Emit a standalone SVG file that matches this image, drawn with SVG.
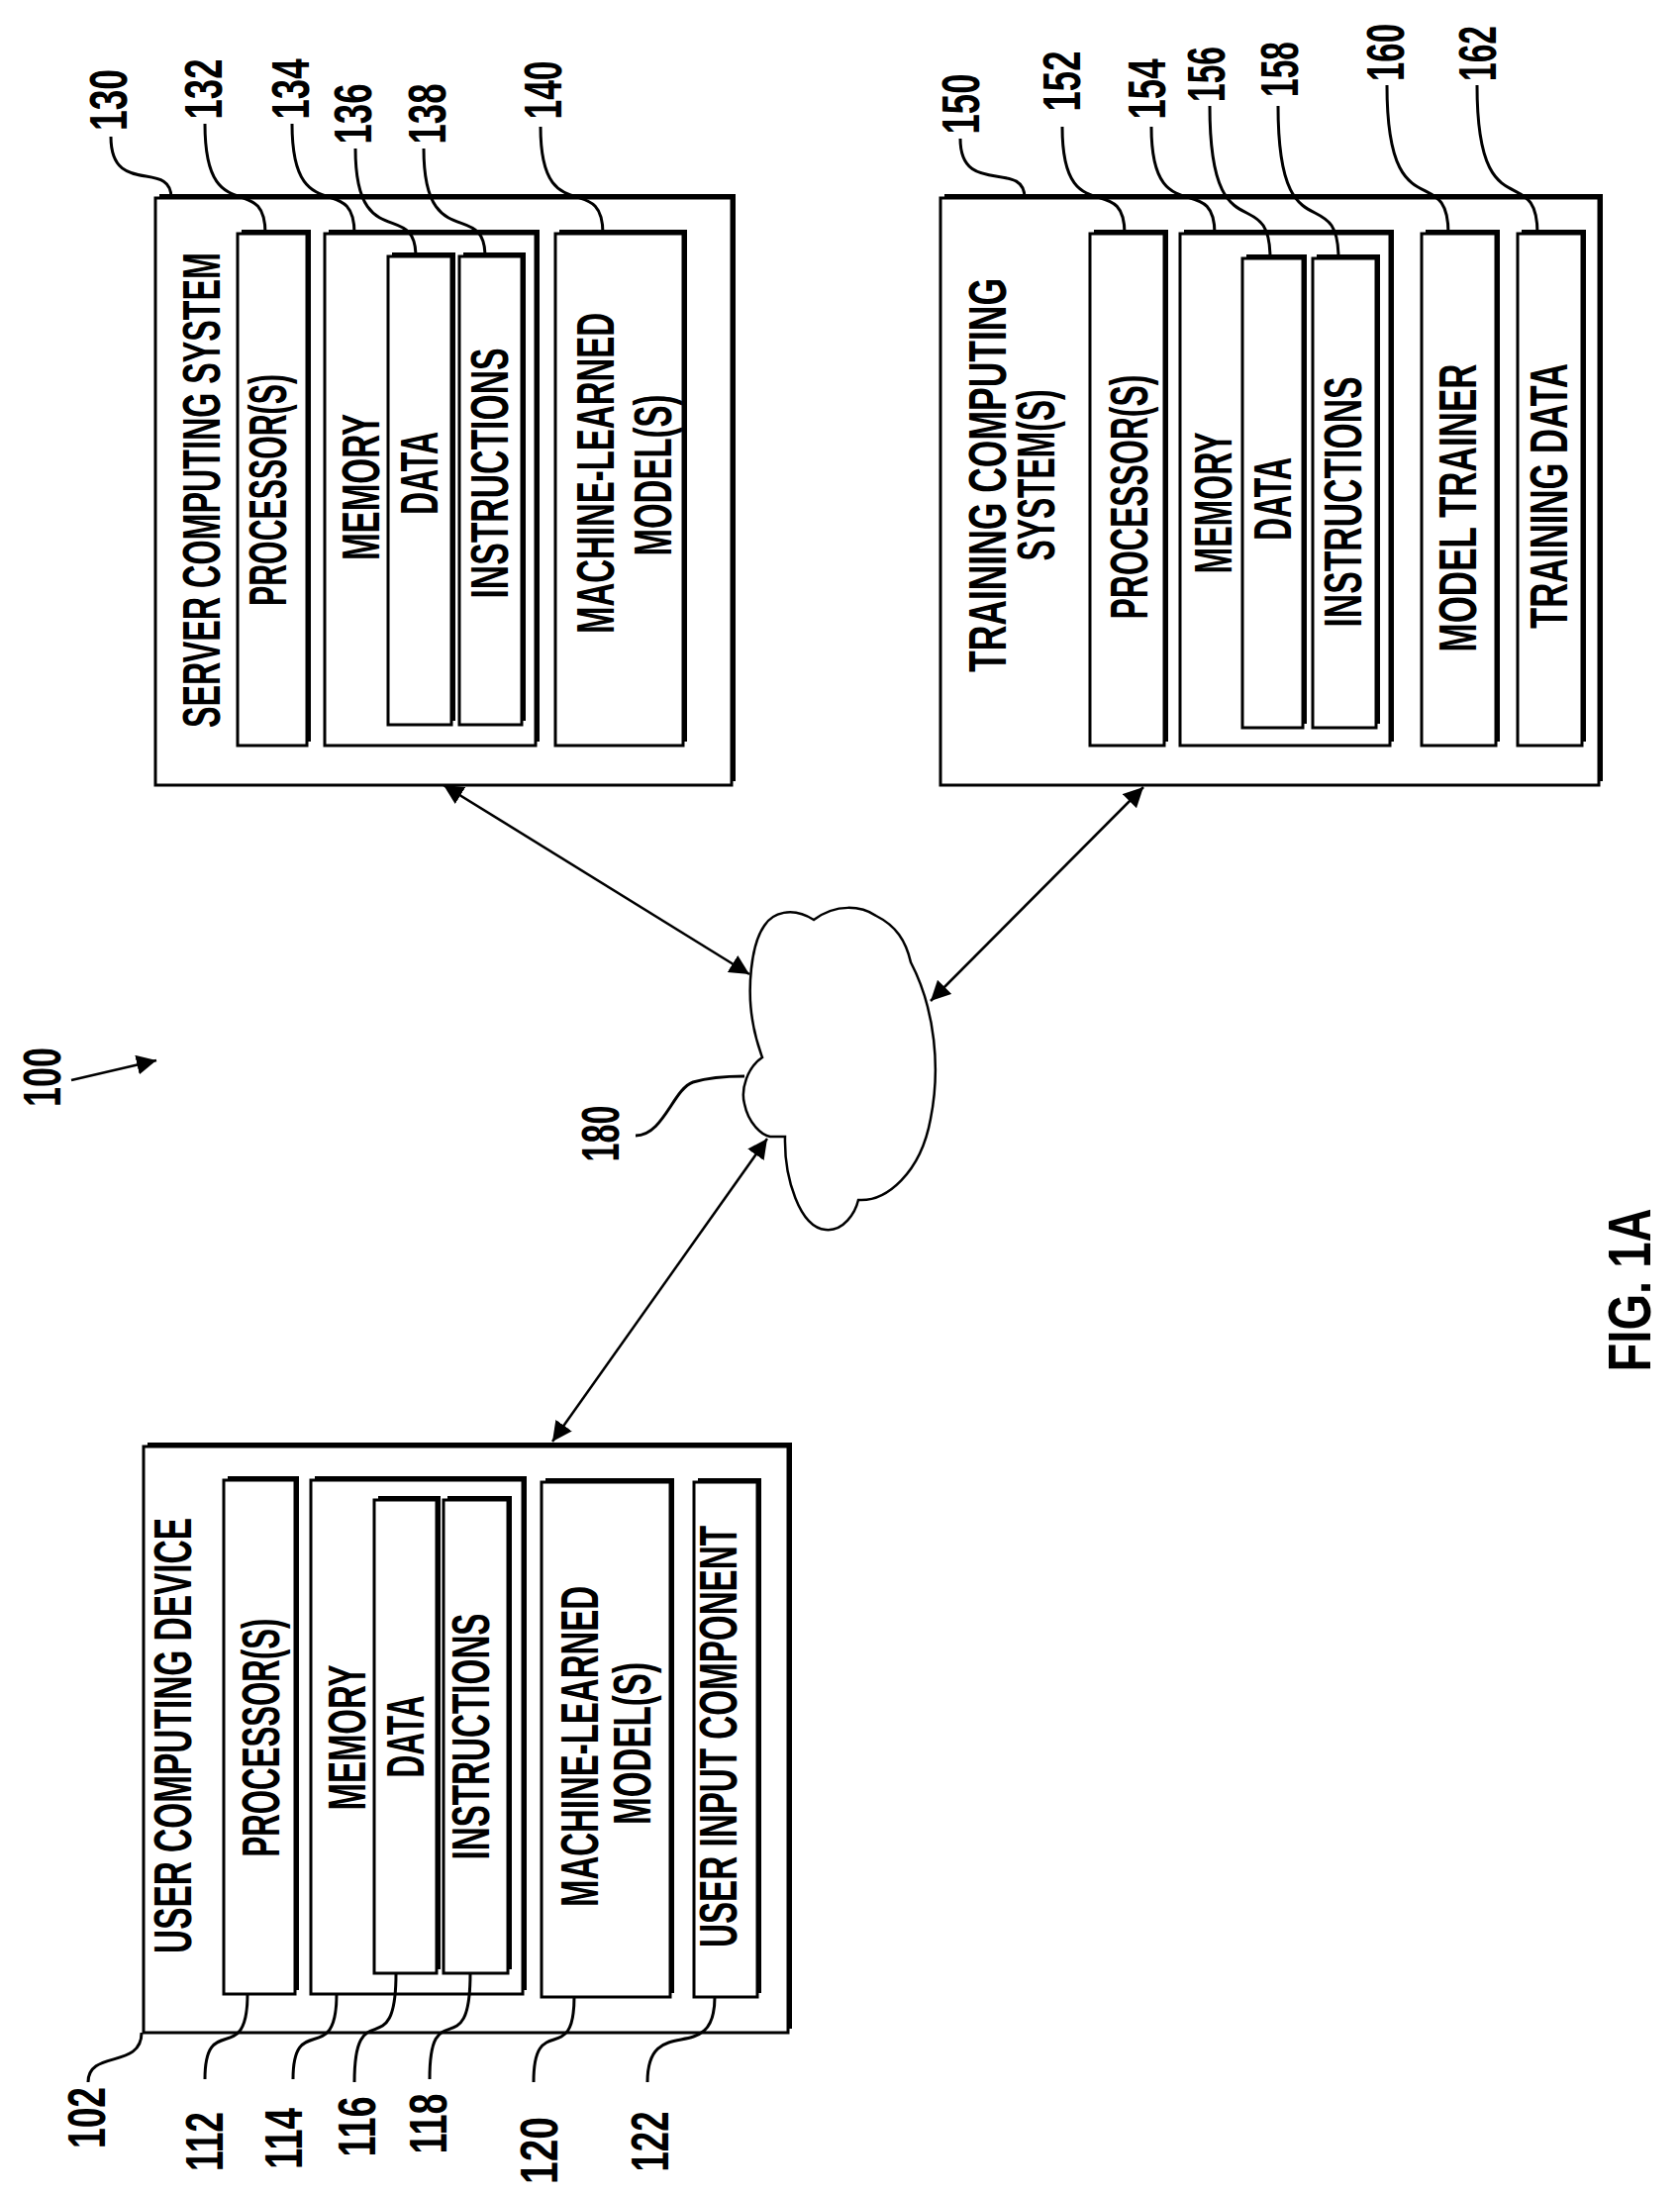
<svg xmlns="http://www.w3.org/2000/svg" width="1697" height="2218" viewBox="0 0 1697 2218">
<style>
text{font-family:"Liberation Sans","DejaVu Sans",sans-serif;font-size:54px;font-weight:bold;fill:#000;text-anchor:middle;dominant-baseline:central}
.box{fill:#fff;stroke:#000;stroke-width:3}
.sh{fill:#000}
.ld{fill:none;stroke:#000;stroke-width:3}
.ar{fill:none;stroke:#000;stroke-width:2.5}
</style>
<defs>
<marker id="ah" viewBox="0 0 10 10" refX="10" refY="5" markerWidth="8" markerHeight="8" orient="auto-start-reverse" markerUnits="strokeWidth">
<path d="M0,0 L10,5 L0,10 Z" fill="#000"/>
</marker>
</defs>
<rect width="1697" height="2218" fill="#fff"/>

<g id="n100">
<text transform="translate(42,1088) rotate(-90)" textLength="60" lengthAdjust="spacingAndGlyphs">100</text>
</g>

<g id="server130">
<rect class="sh" x="161" y="196" width="582" height="593"/>
<rect class="box" x="157" y="200" width="582" height="593"/>
<text transform="translate(203,495) rotate(-90)" textLength="480" lengthAdjust="spacingAndGlyphs">SERVER COMPUTING SYSTEM</text>
<rect class="sh" x="244" y="232" width="70" height="517"/>
<rect class="box" x="240" y="236" width="70" height="517"/>
<text transform="translate(270,495) rotate(-90)" textLength="234" lengthAdjust="spacingAndGlyphs">PROCESSOR(S)</text>
<rect class="sh" x="332" y="232" width="213" height="517"/>
<rect class="box" x="328" y="236" width="213" height="517"/>
<text transform="translate(364,492) rotate(-90)" textLength="148" lengthAdjust="spacingAndGlyphs">MEMORY</text>
<rect class="sh" x="396" y="255" width="64" height="473"/>
<rect class="box" x="392" y="259" width="64" height="473"/>
<text transform="translate(423,478) rotate(-90)" textLength="84" lengthAdjust="spacingAndGlyphs">DATA</text>
<rect class="sh" x="468" y="255" width="63" height="473"/>
<rect class="box" x="464" y="259" width="63" height="473"/>
<text transform="translate(494,478) rotate(-90)" textLength="253" lengthAdjust="spacingAndGlyphs">INSTRUCTIONS</text>
<rect class="sh" x="565" y="232" width="129" height="517"/>
<rect class="box" x="561" y="236" width="129" height="517"/>
<text transform="translate(601,478) rotate(-90)" textLength="324" lengthAdjust="spacingAndGlyphs">MACHINE-LEARNED</text>
<text transform="translate(659,480) rotate(-90)" textLength="163" lengthAdjust="spacingAndGlyphs">MODEL(S)</text>
</g>

<g id="training150">
<rect class="sh" x="954" y="196" width="665" height="593"/>
<rect class="box" x="950" y="200" width="665" height="593"/>
<text transform="translate(997,480) rotate(-90)" textLength="398" lengthAdjust="spacingAndGlyphs">TRAINING COMPUTING</text>
<text transform="translate(1046,480) rotate(-90)" textLength="173" lengthAdjust="spacingAndGlyphs">SYSTEM(S)</text>
<rect class="sh" x="1105" y="232" width="75" height="517"/>
<rect class="box" x="1101" y="236" width="75" height="517"/>
<text transform="translate(1140,502) rotate(-90)" textLength="247" lengthAdjust="spacingAndGlyphs">PROCESSOR(S)</text>
<rect class="sh" x="1196" y="232" width="212" height="517"/>
<rect class="box" x="1192" y="236" width="212" height="517"/>
<text transform="translate(1225,508) rotate(-90)" textLength="143" lengthAdjust="spacingAndGlyphs">MEMORY</text>
<rect class="sh" x="1259" y="257" width="61" height="474"/>
<rect class="box" x="1255" y="261" width="61" height="474"/>
<text transform="translate(1285,504) rotate(-90)" textLength="84" lengthAdjust="spacingAndGlyphs">DATA</text>
<rect class="sh" x="1330" y="257" width="64" height="474"/>
<rect class="box" x="1326" y="261" width="64" height="474"/>
<text transform="translate(1356,507) rotate(-90)" textLength="253" lengthAdjust="spacingAndGlyphs">INSTRUCTIONS</text>
<rect class="sh" x="1440" y="232" width="75" height="517"/>
<rect class="box" x="1436" y="236" width="75" height="517"/>
<text transform="translate(1472,513) rotate(-90)" textLength="291" lengthAdjust="spacingAndGlyphs">MODEL TRAINER</text>
<rect class="sh" x="1537" y="232" width="65" height="517"/>
<rect class="box" x="1533" y="236" width="65" height="517"/>
<text transform="translate(1564,501) rotate(-90)" textLength="268" lengthAdjust="spacingAndGlyphs">TRAINING DATA</text>
</g>

<g id="user102">
<rect class="sh" x="149" y="1457" width="651" height="592"/>
<rect class="box" x="145" y="1461" width="651" height="592"/>
<text transform="translate(174,1753) rotate(-90)" textLength="440" lengthAdjust="spacingAndGlyphs">USER COMPUTING DEVICE</text>
<rect class="sh" x="230" y="1491" width="72" height="519"/>
<rect class="box" x="226" y="1495" width="72" height="519"/>
<text transform="translate(263,1755) rotate(-90)" textLength="241" lengthAdjust="spacingAndGlyphs">PROCESSOR(S)</text>
<rect class="sh" x="318" y="1491" width="214" height="519"/>
<rect class="box" x="314" y="1495" width="214" height="519"/>
<text transform="translate(350,1755) rotate(-90)" textLength="147" lengthAdjust="spacingAndGlyphs">MEMORY</text>
<rect class="sh" x="382" y="1511" width="63" height="478"/>
<rect class="box" x="378" y="1515" width="63" height="478"/>
<text transform="translate(409,1754) rotate(-90)" textLength="83" lengthAdjust="spacingAndGlyphs">DATA</text>
<rect class="sh" x="452" y="1511" width="65" height="478"/>
<rect class="box" x="448" y="1515" width="65" height="478"/>
<text transform="translate(475,1754) rotate(-90)" textLength="249" lengthAdjust="spacingAndGlyphs">INSTRUCTIONS</text>
<rect class="sh" x="551" y="1493" width="130" height="520"/>
<rect class="box" x="547" y="1497" width="130" height="520"/>
<text transform="translate(585,1764) rotate(-90)" textLength="324" lengthAdjust="spacingAndGlyphs">MACHINE-LEARNED</text>
<text transform="translate(638,1761) rotate(-90)" textLength="164" lengthAdjust="spacingAndGlyphs">MODEL(S)</text>
<rect class="sh" x="705" y="1493" width="64" height="520"/>
<rect class="box" x="701" y="1497" width="64" height="520"/>
<text transform="translate(725,1754) rotate(-90)" textLength="426" lengthAdjust="spacingAndGlyphs">USER INPUT COMPONENT</text>
</g>

<g id="network180">
<path class="ar" d="M822,929 C800,915 780,922 772,935 C758,955 755,1000 760,1030 C763,1050 768,1062 770,1068 C755,1078 748,1100 752,1115 C756,1135 770,1147 778,1148 L793,1148 C792,1190 808,1240 834,1242 C852,1244 864,1225 867,1212 C895,1214 930,1185 940,1130 C950,1080 945,1020 920,972 C915,950 905,935 885,925 C870,915 845,912 822,929 Z"/>
<text transform="translate(606,1145) rotate(-90)" textLength="57" lengthAdjust="spacingAndGlyphs">180</text>
</g>

<g id="fig">
<text transform="translate(1645,1303) rotate(-90)" textLength="165" lengthAdjust="spacingAndGlyphs" style="font-size:62px">FIG. 1A</text>
</g>

<g id="labels">
<text transform="translate(109,101) rotate(-90)" textLength="62" lengthAdjust="spacingAndGlyphs">130</text>
<text transform="translate(205,90) rotate(-90)" textLength="61" lengthAdjust="spacingAndGlyphs">132</text>
<text transform="translate(293,90) rotate(-90)" textLength="61" lengthAdjust="spacingAndGlyphs">134</text>
<text transform="translate(356,115) rotate(-90)" textLength="61" lengthAdjust="spacingAndGlyphs">136</text>
<text transform="translate(431,115) rotate(-90)" textLength="61" lengthAdjust="spacingAndGlyphs">138</text>
<text transform="translate(548,91) rotate(-90)" textLength="59" lengthAdjust="spacingAndGlyphs">140</text>
<text transform="translate(970,105) rotate(-90)" textLength="61" lengthAdjust="spacingAndGlyphs">150</text>
<text transform="translate(1072,82) rotate(-90)" textLength="61" lengthAdjust="spacingAndGlyphs">152</text>
<text transform="translate(1158,90) rotate(-90)" textLength="61" lengthAdjust="spacingAndGlyphs">154</text>
<text transform="translate(1218,75) rotate(-90)" textLength="56" lengthAdjust="spacingAndGlyphs">156</text>
<text transform="translate(1292,70) rotate(-90)" textLength="56" lengthAdjust="spacingAndGlyphs">158</text>
<text transform="translate(1399,53) rotate(-90)" textLength="58" lengthAdjust="spacingAndGlyphs">160</text>
<text transform="translate(1492,54) rotate(-90)" textLength="56" lengthAdjust="spacingAndGlyphs">162</text>
<text transform="translate(87,2139) rotate(-90)" textLength="62" lengthAdjust="spacingAndGlyphs">102</text>
<text transform="translate(206,2163) rotate(-90)" textLength="60" lengthAdjust="spacingAndGlyphs">112</text>
<text transform="translate(286,2160) rotate(-90)" textLength="62" lengthAdjust="spacingAndGlyphs">114</text>
<text transform="translate(360,2148) rotate(-90)" textLength="61" lengthAdjust="spacingAndGlyphs">116</text>
<text transform="translate(432,2145) rotate(-90)" textLength="61" lengthAdjust="spacingAndGlyphs">118</text>
<text transform="translate(544,2172) rotate(-90)" textLength="68" lengthAdjust="spacingAndGlyphs">120</text>
<text transform="translate(656,2163) rotate(-90)" textLength="61" lengthAdjust="spacingAndGlyphs">122</text>
</g>

<g id="connectors">
<path class="ld" d="M112,138 C112,200 173,160 173,200"/>
<path class="ld" d="M207,125 C207,235 268,170 268,236"/>
<path class="ld" d="M295,125 C295,235 358,170 358,236"/>
<path class="ld" d="M359,150 C359,258 420,200 420,259"/>
<path class="ld" d="M428,150 C428,258 490,200 490,259"/>
<path class="ld" d="M546,128 C546,235 609,170 609,236"/>
<path class="ld" d="M970,140 C970,200 1035,160 1035,200"/>
<path class="ld" d="M1073,128 C1073,236 1136,170 1136,236"/>
<path class="ld" d="M1163,128 C1163,236 1227,170 1227,236"/>
<path class="ld" d="M1222,107 C1222,261 1283,180 1283,261"/>
<path class="ld" d="M1291,107 C1291,261 1352,180 1352,261"/>
<path class="ld" d="M1401,86 C1401,236 1463,160 1463,236"/>
<path class="ld" d="M1492,86 C1492,236 1553,160 1553,236"/>
<path class="ld" d="M143,2053 C143,2090 89,2070 89,2103"/>
<path class="ld" d="M250,2014 C250,2090 207,2030 207,2100"/>
<path class="ld" d="M340,2014 C340,2090 296,2030 296,2100"/>
<path class="ld" d="M400,1993 C400,2090 358,2010 358,2103"/>
<path class="ld" d="M475,1993 C475,2090 434,2010 434,2100"/>
<path class="ld" d="M580,2017 C580,2090 539,2030 539,2103"/>
<path class="ld" d="M722,2017 C722,2090 654,2030 654,2103"/>
<path class="ld" d="M642,1147 C670,1147 680,1100 700,1093 C720,1087 740,1087 752,1087"/>
<line class="ar" x1="448" y1="793" x2="757" y2="984" marker-start="url(#ah)" marker-end="url(#ah)"/>
<line class="ar" x1="1155" y1="795" x2="940" y2="1011" marker-start="url(#ah)" marker-end="url(#ah)"/>
<line class="ar" x1="775" y1="1150" x2="558" y2="1456" marker-start="url(#ah)" marker-end="url(#ah)"/>
<line class="ar" x1="72" y1="1091" x2="158" y2="1071" marker-end="url(#ah)"/>
</g>
</svg>
